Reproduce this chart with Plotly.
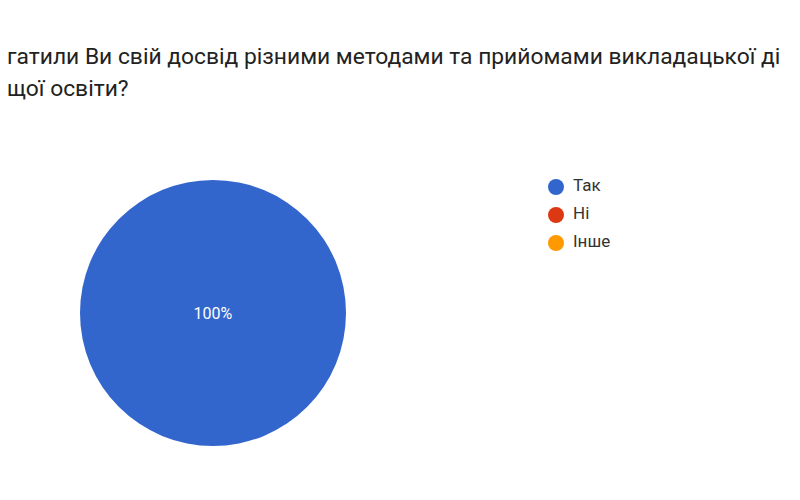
import plotly.graph_objects as go

# Data
labels = ["Так", "Ні", "Інше"]
values = [100, 0, 0]
colors = ["#3366cc", "#dc3912", "#ff9900"]
titleLines = [
    "гатили Ви свій досвід різними методами та прийомами викладацької ді",
    "щої освіти?",
]

fig = go.Figure()

# Pie itself, legend drawn separately with round markers
fig.add_trace(
    go.Pie(
        labels=labels,
        values=values,
        marker=dict(colors=colors, line=dict(width=0)),
        textinfo="percent",
        texttemplate="%{percent:.0%}",
        textfont=dict(color="white", size=16, family="Roboto"),
        sort=False,
        direction="clockwise",
        showlegend=False,
        hoverinfo="label+percent",
        domain=dict(x=[0.09, 0.4225], y=[0.124, 0.656]),
    )
)

# Legend as a small scatter column: dots, then labels next to them
legendY = list(range(len(labels)))[::-1]
fig.add_trace(
    go.Scatter(
        x=[0] * len(labels),
        y=legendY,
        mode="markers",
        marker=dict(color=colors, size=16),
        showlegend=False,
        hoverinfo="skip",
    )
)
fig.add_trace(
    go.Scatter(
        x=[0.85] * len(labels),
        y=legendY,
        mode="text",
        text=labels,
        textposition="middle right",
        textfont=dict(color="#333333", size=17, family="Roboto"),
        showlegend=False,
        hoverinfo="skip",
    )
)

# Title lines (left part cut off in the source screenshot)
for i, line in enumerate(titleLines):
    fig.add_annotation(
        text=line,
        xref="paper",
        yref="paper",
        x=-0.004,
        y=1 - (49 + i * 31) / 500,
        xanchor="left",
        yanchor="middle",
        showarrow=False,
        font=dict(size=22.8, color="#222222", family="Roboto"),
    )

fig.update_layout(
    width=800,
    height=500,
    margin=dict(l=0, r=0, t=0, b=0),
    paper_bgcolor="white",
    plot_bgcolor="white",
    xaxis=dict(domain=[0.66, 0.96], range=[-1, 11], visible=False, fixedrange=True),
    yaxis=dict(domain=[0.474, 0.698], range=[-1, 3], visible=False, fixedrange=True),
)

fig.write_html("out.html")
